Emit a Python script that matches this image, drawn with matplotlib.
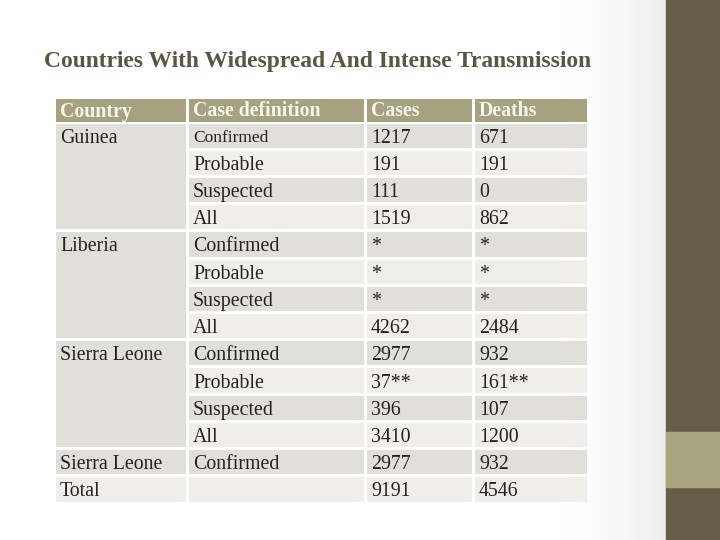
import numpy as np
import matplotlib.pyplot as plt
from matplotlib.patches import Rectangle

# table content
header = ["Country", "Case definition", "Cases", "Deaths"]
country_col = ["Guinea", "", "", "", "Liberia", "", "", "", "Sierra Leone", "", "", "",
               "Sierra Leone", "Total"]
case_def = ["Confirmed", "Probable", "Suspected", "All",
            "Confirmed", "Probable", "Suspected", "All",
            "Confirmed", "Probable", "Suspected", "All",
            "Confirmed", ""]
cases = ["1217", "191", "111", "1519", "*", "*", "*", "4262",
         "2977", "37**", "396", "3410", "2977", "9191"]
deaths = ["671", "191", "0", "862", "*", "*", "*", "2484",
          "932", "161**", "107", "1200", "932", "4546"]
country_spans = [4, 4, 4, 1, 1]   # merged cells in the country column

title = "Countries With Widespread And Intense Transmission"

# look
c_head = "#a6a17f"
c_dark = "#e0dfd9"
c_light = "#efeeeb"
c_band = "#665e48"
c_band2 = "#a9a67f"
c_title = "#5b5643"
serif = ["Liberation Serif", "DejaVu Serif"]

fig = plt.figure(figsize=(7.2, 5.4), dpi=100)
ax = fig.add_axes([0, 0, 1, 1])
ax.set_xlim(0, 720)
ax.set_ylim(540, 0)
ax.axis("off")

# soft grey background shading toward the right edge
grad = np.clip((np.linspace(0, 720, 720) - 540) / 126, 0, 1) ** 1.8
img = 1 - 0.07 * grad
ax.imshow(np.tile(img, (540, 1)), cmap="gray", vmin=0, vmax=1,
          extent=(0, 720, 540, 0), aspect="auto", zorder=0)

# right side bands
ax.add_patch(Rectangle((666, 0), 54, 540, color=c_band, zorder=1))
ax.add_patch(Rectangle((666, 432), 54, 55, color=c_band2, zorder=1))

ax.text(44, 67, title, fontsize=16.9, fontweight="bold", family=serif,
        color=c_title, va="baseline", ha="left")

col_x = [54, 187, 365, 473, 588]
head_top, head_bot = 97, 122
row_h = (503 - 122) / 14
gap = 1.5

def cell(x0, x1, y0, y1, color):
    ax.add_patch(Rectangle((x0 + gap, y0 + gap), x1 - x0 - 2 * gap, y1 - y0 - 2 * gap,
                           color=color, lw=0, zorder=2))

# header
for j, h in enumerate(header):
    cell(col_x[j], col_x[j + 1], head_top, head_bot + gap, c_head)
    ax.text(col_x[j] + 6, (head_top + head_bot) / 2 + 2, h, fontsize=14.3,
            fontweight="bold", family=serif, color="#f7f5ee", va="center", zorder=3)

# country column with merged cells
r = 0
for span in country_spans:
    y0 = head_bot + r * row_h
    y1 = y0 + span * row_h
    cell(col_x[0], col_x[1], y0, y1, c_dark if r % 2 == 0 else c_light)
    ax.text(col_x[0] + 6, y0 + row_h / 2 + 2.5, country_col[r], fontsize=14.3,
            family=serif, color="#222222", va="center", zorder=3)
    r += span

# other columns
for i in range(len(case_def)):
    y0 = head_bot + i * row_h
    y1 = y0 + row_h
    color = c_dark if i % 2 == 0 else c_light
    for j, val in enumerate([case_def[i], cases[i], deaths[i]], start=1):
        cell(col_x[j], col_x[j + 1], y0, y1, color)
        fs = 12.5 if (i == 0 and j == 1) else 14.3
        ax.text(col_x[j] + 6, y0 + row_h / 2 + 2.5, val, fontsize=fs,
                family=serif, color="#222222", va="center", zorder=3)

fig.savefig("out.png", dpi=100)
